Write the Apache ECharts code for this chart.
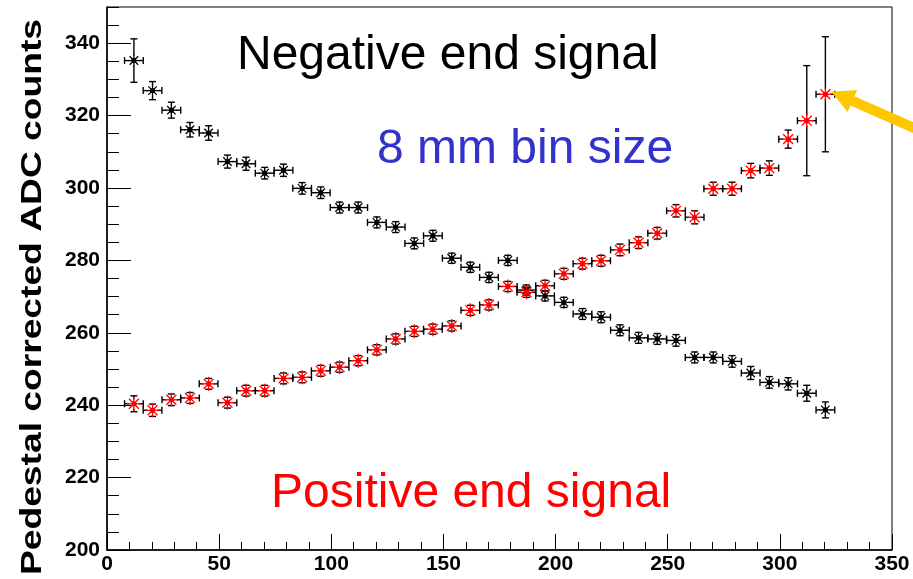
<!DOCTYPE html>
<html>
<head>
<meta charset="utf-8">
<title>Pedestal corrected ADC counts</title>
<script src="https://cdn.jsdelivr.net/npm/echarts@6/dist/echarts.min.js"></script>
<style>
    html, body { margin: 0; padding: 0; background: #fff; }
    #container { width: 913px; height: 579px; }
</style>
</head>
<body>
<div id="container"></div>
<script>
// bin centres (8 mm bins)
var binCenters = [12.0, 20.3, 28.7, 37.0, 45.3, 53.7, 62.0, 70.3, 78.7, 87.0,
    95.3, 103.7, 112.0, 120.3, 128.7, 137.0, 145.3, 153.7, 162.0, 170.3,
    178.7, 187.0, 195.3, 203.7, 212.0, 220.3, 228.7, 237.0, 245.3, 253.7,
    262.0, 270.3, 278.7, 287.0, 295.3, 303.7, 312.0, 320.3];
var binHalfWidth = 4.17;

// negative end signal (black)
var negativeSignal = [335.2, 326.9, 321.5, 316.1, 315.2, 307.3, 306.7, 304.1, 304.9, 299.9,
    298.7, 294.6, 294.6, 290.5, 289.2, 284.7, 286.8, 280.6, 278.1, 275.3,
    280.0, 271.8, 270.2, 268.4, 265.2, 264.3, 260.7, 258.6, 258.3, 257.9,
    253.2, 253.2, 252.1, 248.9, 246.3, 245.9, 243.3, 238.7];
var negativeError = [6.0, 2.5, 2.2, 2.0, 2.0, 1.8, 1.8, 1.6, 1.7, 1.6,
    1.6, 1.5, 1.5, 1.5, 1.5, 1.5, 1.5, 1.4, 1.4, 1.4,
    1.4, 1.4, 1.4, 1.4, 1.5, 1.5, 1.5, 1.5, 1.5, 1.6,
    1.5, 1.5, 1.6, 1.8, 1.6, 1.7, 2.2, 2.2];

// positive end signal (red)
var positiveSignal = [240.4, 238.6, 241.5, 242.0, 245.9, 240.7, 244.0, 244.0, 247.4, 247.7,
    249.5, 250.5, 252.3, 255.3, 258.3, 260.4, 261.0, 261.9, 266.2, 267.7,
    272.8, 271.2, 273.0, 276.3, 279.1, 279.9, 282.9, 284.9, 287.5, 293.7,
    291.9, 299.8, 299.8, 304.8, 305.5, 313.5, 318.6, 325.9];
var positiveError = [2.2, 1.7, 1.6, 1.5, 1.5, 1.5, 1.5, 1.5, 1.5, 1.5,
    1.5, 1.4, 1.4, 1.4, 1.4, 1.4, 1.4, 1.4, 1.4, 1.4,
    1.4, 1.4, 1.5, 1.5, 1.5, 1.5, 1.6, 1.6, 1.6, 1.7,
    1.8, 1.8, 1.8, 2.0, 2.0, 2.5, 15.2, 15.9];

var FONT = '"Liberation Sans", Arial, Helvetica, sans-serif';

function buildPoints(values, errors) {
    var out = [];
    for (var i = 0; i < binCenters.length; i++) {
        out.push([binCenters[i], values[i], binHalfWidth, errors[i]]);
    }
    return out;
}

// ROOT style error bars + asterisk marker
function makeRenderer(markerColor, markerSize) {
    return function (params, api) {
        var x = api.value(0), y = api.value(1), ex = api.value(2), ey = api.value(3);
        var c = api.coord([x, y]);
        var left = api.coord([x - ex, y])[0];
        var right = api.coord([x + ex, y])[0];
        var top = api.coord([x, y + ey])[1];
        var bottom = api.coord([x, y - ey])[1];
        var gap = 5, cap = 3.5;
        var bar = { stroke: '#000', lineWidth: 1.4 };
        var children = [];
        function seg(x1, y1, x2, y2, style) {
            children.push({ type: 'line', shape: { x1: x1, y1: y1, x2: x2, y2: y2 }, style: style });
        }
        // horizontal bar
        if (c[0] - left > gap) {
            seg(left, c[1], c[0] - gap, c[1], bar);
            seg(right, c[1], c[0] + gap, c[1], bar);
            seg(left, c[1] - cap, left, c[1] + cap, bar);
            seg(right, c[1] - cap, right, c[1] + cap, bar);
        }
        // vertical bar
        if (c[1] - top > gap) {
            seg(c[0], top, c[0], c[1] - gap, bar);
            seg(c[0], bottom, c[0], c[1] + gap, bar);
            seg(c[0] - cap, top, c[0] + cap, top, bar);
            seg(c[0] - cap, bottom, c[0] + cap, bottom, bar);
        }
        // asterisk
        var mk = { stroke: markerColor, lineWidth: 1.3 };
        for (var k = 0; k < 4; k++) {
            var a = k * Math.PI / 4;
            var dx = Math.cos(a) * markerSize, dy = Math.sin(a) * markerSize;
            seg(c[0] - dx, c[1] - dy, c[0] + dx, c[1] + dy, mk);
        }
        children.push({ type: 'circle', shape: { cx: c[0], cy: c[1], r: 2.6 }, style: { fill: markerColor } });
        return { type: 'group', children: children };
    };
}

var dom = document.getElementById('container');
var myChart = echarts.init(dom, null, { renderer: 'canvas' });

var option = {
    animation: false,
    backgroundColor: '#fff',
    grid: {
        left: 107, right: 21, top: 7, bottom: 29,
        show: true, borderColor: '#000', borderWidth: 1, backgroundColor: 'transparent'
    },
    xAxis: {
        type: 'value', min: 0, max: 350, interval: 50,
        axisLine: { show: true, onZero: false, lineStyle: { color: '#000', width: 1.5 } },
        axisTick: { show: true, inside: true, length: 16, lineStyle: { color: '#000', width: 1 } },
        minorTick: { show: true, splitNumber: 5, length: 8, lineStyle: { color: '#000', width: 1 } },
        splitLine: { show: false },
        axisLabel: { color: '#000', fontFamily: FONT, fontWeight: 'bold', fontSize: 21, margin: 4 }
    },
    yAxis: [{
        type: 'value', min: 200, max: 350, interval: 20,
        axisLine: { show: true, onZero: false, lineStyle: { color: '#000', width: 1.5 } },
        axisTick: { show: true, inside: true, length: 24, lineStyle: { color: '#000', width: 1 } },
        splitLine: { show: false },
        axisLabel: { color: '#000', fontFamily: FONT, fontWeight: 'bold', fontSize: 21, margin: 7, showMaxLabel: false }
    }, {
        // minor ticks every 5 counts
        type: 'value', min: 200, max: 350, interval: 5, position: 'left',
        axisLine: { show: false },
        axisTick: { show: true, inside: true, length: 12, lineStyle: { color: '#000', width: 1 } },
        splitLine: { show: false },
        axisLabel: { show: false }
    }],
    graphic: [{
        id: 'ytitle', type: 'text', x: 33, y: 297, rotation: Math.PI / 2, scaleX: 1.24,
        style: { text: 'Pedestal corrected ADC counts', fontFamily: FONT, fontWeight: 'bold', fontSize: 30,
            fill: '#000', align: 'center', verticalAlign: 'middle' }
    }, {
        id: 'negLabel', type: 'text', x: 237, y: 56,
        style: { text: 'Negative end signal', fontFamily: FONT, fontSize: 48, fill: '#000', align: 'left', verticalAlign: 'middle' }
    }, {
        id: 'binLabel', type: 'text', x: 377, y: 150,
        style: { text: '8 mm bin size', fontFamily: FONT, fontSize: 48, fill: '#3333cc', align: 'left', verticalAlign: 'middle' }
    }, {
        id: 'posLabel', type: 'text', x: 271, y: 494,
        style: { text: 'Positive end signal', fontFamily: FONT, fontSize: 48, fill: '#ff0000', align: 'left', verticalAlign: 'middle' }
    }],
    series: [{
        name: 'Negative end signal', type: 'custom',
        xAxisIndex: 0, yAxisIndex: 0,
        renderItem: makeRenderer('#000', 6),
        encode: { x: 0, y: 1 },
        data: buildPoints(negativeSignal, negativeError),
        z: 2
    }, {
        name: 'Positive end signal', type: 'custom',
        xAxisIndex: 0, yAxisIndex: 0,
        renderItem: makeRenderer('#ff0000', 7),
        encode: { x: 0, y: 1 },
        data: buildPoints(positiveSignal, positiveError),
        z: 3
    }]
};
myChart.setOption(option);

// yellow arrow pointing at the last positive-end bin
var last = binCenters.length - 1;
var p = myChart.convertToPixel({ seriesIndex: 1 }, [binCenters[last], positiveSignal[last]]);
var tip = [p[0] + 6, p[1] - 2.6];
var d = [0.916, 0.402], n = [-0.402, 0.916];
var headLen = 23, headHalf = 12;
var base = [tip[0] + d[0] * headLen, tip[1] + d[1] * headLen];
myChart.setOption({
    graphic: [{
        id: 'arrowShaft', type: 'line', z: 100,
        shape: { x1: base[0] - d[0] * 2, y1: base[1] - d[1] * 2, x2: tip[0] + d[0] * 140, y2: tip[1] + d[1] * 140 },
        style: { stroke: '#ffc700', lineWidth: 10 }
    }, {
        id: 'arrowHead', type: 'polygon', z: 100,
        shape: { points: [tip, [base[0] + n[0] * headHalf, base[1] + n[1] * headHalf], [base[0] - n[0] * headHalf, base[1] - n[1] * headHalf]] },
        style: { fill: '#ffc700' }
    }]
});
</script>
</body>
</html>
